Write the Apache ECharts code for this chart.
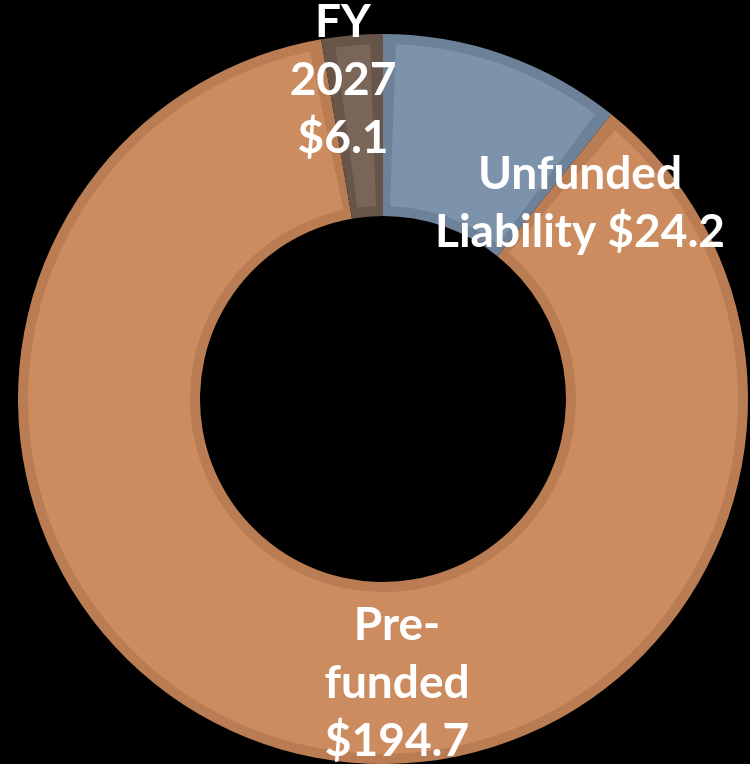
<!DOCTYPE html>
<html>
<head>
<meta charset="utf-8">
<style>
  html, body { margin: 0; padding: 0; background: #000; }
  #chart { width: 750px; height: 764px; }
</style>
<script src="https://cdn.jsdelivr.net/npm/echarts@6/dist/echarts.min.js"></script>
</head>
<body>
<div id="chart"></div>
<script>
const categories = ['Unfunded Liability', 'Pre-funded', 'FY 2027'];
const values = [24.2, 194.7, 6.1];
const labelLines = [
  ['Unfunded', 'Liability $'],
  ['Pre-', 'funded', '$'],
  ['FY', '2027', '$']
];

// styling
const fillColors = ['#7d93ab', '#cc8c5f', '#7a6659'];
const borderColors = ['#6d8299', '#b97c53', '#675549'];
const labelPos = [[580, 203], [397, 683], [343, 80]];
const insetValue = 1.3; // inner-border inset, in value units on each side

// front ring: each slice inset by a transparent spacer on both sides
const frontData = [];
categories.forEach((name, i) => {
  frontData.push({ value: insetValue, name: 'gapA' + i, itemStyle: { color: 'rgba(0,0,0,0)' }, label: { show: false } });
  frontData.push({ value: values[i] - 2 * insetValue, name: name, realValue: values[i], idx: i, itemStyle: { color: fillColors[i] } });
  frontData.push({ value: insetValue, name: 'gapB' + i, itemStyle: { color: 'rgba(0,0,0,0)' }, label: { show: false } });
});

const chart = echarts.init(document.getElementById('chart'));
chart.setOption({
  backgroundColor: '#000000',
  animation: false,
  series: [{
    type: 'pie',
    center: [383, 399],
    radius: [183, 365],
    startAngle: 90,
    clockwise: true,
    silent: true,
    data: categories.map((name, i) => ({
      name: name,
      value: values[i],
      itemStyle: { color: borderColors[i], borderWidth: 0 }
    })),
    label: { show: false },
    labelLine: { show: false }
  }, {
    type: 'pie',
    center: [383, 399],
    radius: [193, 355],
    startAngle: 90,
    clockwise: true,
    silent: true,
    data: frontData,
    itemStyle: { borderWidth: 0 },
    label: {
      show: true,
      position: 'inside',
      color: '#ffffff',
      fontFamily: 'Lato, sans-serif',
      fontWeight: 'bold',
      fontSize: 46,
      lineHeight: 58,
      align: 'center',
      formatter: function (p) {
        const i = p.data.idx;
        if (i === undefined) return '';
        const lines = labelLines[i].slice();
        lines[lines.length - 1] = lines[lines.length - 1] + p.data.realValue;
        return lines.join('\n');
      }
    },
    labelLayout: function (p) {
      const d = frontData[p.dataIndex];
      if (d.idx === undefined) return {};
      return { x: labelPos[d.idx][0], y: labelPos[d.idx][1], align: 'center', verticalAlign: 'middle' };
    },
    labelLine: { show: false }
  }]
});
</script>
</body>
</html>
